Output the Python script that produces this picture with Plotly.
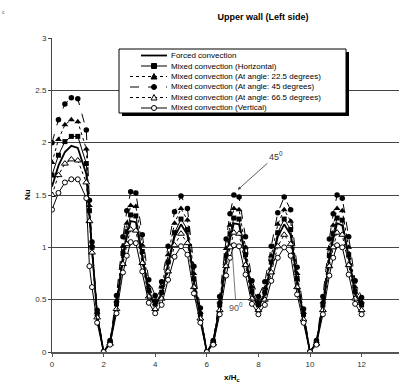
import plotly.graph_objects as go

x_pos = [0, 0.25, 0.5, 0.75, 1.0, 1.33, 1.45, 1.55, 1.75, 2.0,
         2.25, 2.5, 2.75, 2.9, 3.05, 3.25, 3.5, 3.75, 4.0,
         4.25, 4.5, 4.75, 5.0, 5.25, 5.5, 5.75, 6.0,
         6.25, 6.5, 6.75, 6.9, 7.05, 7.25, 7.5, 7.75, 8.0,
         8.25, 8.5, 8.75, 9.0, 9.25, 9.5, 9.75, 10.0,
         10.25, 10.5, 10.75, 10.9, 11.05, 11.25, 11.5, 11.75, 12.0]

nu_forced = [1.58, 1.78, 1.91, 1.97, 1.95, 1.70, 1.30, 0.98, 0.35, 0.0,
             0.09, 0.44, 0.90, 1.10, 1.25, 1.24, 0.91, 0.56, 0.44,
             0.55, 0.83, 1.10, 1.22, 1.12, 0.67, 0.34, 0.0,
             0.09, 0.43, 0.89, 1.08, 1.23, 1.22, 0.90, 0.55, 0.43,
             0.55, 0.83, 1.10, 1.22, 1.12, 0.67, 0.34, 0.0,
             0.09, 0.43, 0.89, 1.08, 1.23, 1.21, 0.90, 0.55, 0.43]

nu_horizontal = [1.69, 1.88, 2.01, 2.06, 2.06, 1.80, 1.35, 1.00, 0.36, 0.0,
                 0.09, 0.46, 0.94, 1.15, 1.31, 1.30, 0.96, 0.59, 0.46,
                 0.57, 0.86, 1.14, 1.27, 1.17, 0.70, 0.36, 0.0,
                 0.09, 0.45, 0.92, 1.13, 1.28, 1.27, 0.93, 0.58, 0.45,
                 0.57, 0.86, 1.14, 1.27, 1.17, 0.70, 0.36, 0.0,
                 0.09, 0.45, 0.92, 1.13, 1.28, 1.26, 0.93, 0.58, 0.45]

nu_225 = [1.81, 2.03, 2.17, 2.22, 2.20, 1.94, 1.40, 1.02, 0.38, 0.0,
          0.10, 0.49, 1.01, 1.23, 1.40, 1.39, 1.02, 0.63, 0.49,
          0.62, 0.93, 1.23, 1.37, 1.26, 0.75, 0.38, 0.0,
          0.10, 0.48, 0.99, 1.21, 1.37, 1.36, 1.00, 0.62, 0.48,
          0.61, 0.92, 1.22, 1.36, 1.25, 0.75, 0.38, 0.0,
          0.10, 0.48, 0.99, 1.21, 1.37, 1.35, 1.00, 0.62, 0.48]

nu_45 = [2.00, 2.22, 2.37, 2.43, 2.42, 2.12, 1.45, 1.05, 0.40, 0.0,
         0.11, 0.54, 1.10, 1.35, 1.53, 1.52, 1.12, 0.69, 0.54,
         0.67, 1.01, 1.34, 1.49, 1.37, 0.82, 0.42, 0.0,
         0.11, 0.53, 1.08, 1.32, 1.50, 1.48, 1.10, 0.68, 0.53,
         0.67, 1.01, 1.33, 1.48, 1.36, 0.81, 0.41, 0.0,
         0.11, 0.53, 1.08, 1.32, 1.50, 1.47, 1.10, 0.68, 0.52]

nu_665 = [1.50, 1.69, 1.80, 1.84, 1.83, 1.62, 1.25, 0.95, 0.33, 0.0,
          0.08, 0.41, 0.84, 1.03, 1.17, 1.16, 0.85, 0.53, 0.41,
          0.51, 0.77, 1.02, 1.13, 1.04, 0.62, 0.32, 0.0,
          0.08, 0.40, 0.82, 1.00, 1.14, 1.13, 0.83, 0.51, 0.40,
          0.50, 0.76, 1.01, 1.12, 1.03, 0.62, 0.31, 0.0,
          0.08, 0.40, 0.82, 1.00, 1.14, 1.12, 0.83, 0.51, 0.40]

nu_vertical = [1.36, 1.52, 1.62, 1.65, 1.65, 1.47, 0.82, 0.62, 0.28, 0.0,
               0.07, 0.37, 0.76, 0.92, 1.05, 1.04, 0.77, 0.47, 0.37,
               0.45, 0.69, 0.91, 1.01, 0.93, 0.56, 0.28, 0.0,
               0.07, 0.36, 0.73, 0.90, 1.02, 1.01, 0.74, 0.46, 0.36,
               0.45, 0.68, 0.90, 1.00, 0.92, 0.55, 0.28, 0.0,
               0.07, 0.36, 0.73, 0.90, 1.02, 1.00, 0.74, 0.46, 0.36]

series_names = ["Forced convection",
                "Mixed convection (Horizontal)",
                "Mixed convection (At angle: 22.5 degrees)",
                "Mixed convection (At angle: 45 degrees)",
                "Mixed convection (At angle: 66.5 degrees)",
                "Mixed convection (Vertical)"]

x_ticks = [0, 2, 4, 6, 8, 10, 12]
y_ticks = [0, 0.5, 1, 1.5, 2, 2.5, 3]
y_tick_text = ["0", "0.5", "1", "1.5", "2", "2.5", "3"]

FONT = "Arial, Liberation Sans, sans-serif"

# plot area geometry (pixels)
W, H = 399, 387
L, R, T, B = 52, 0, 38, 35
PW, PH = W - L - R, H - T - B


def px(xp):
    return (xp - L) / PW


def py(yp):
    return (H - B - yp) / PH


line_styles = [
    dict(color="black", width=1.8, dash="solid"),
    dict(color="black", width=1, dash="solid"),
    dict(color="black", width=1, dash="dot"),
    dict(color="black", width=1, dash="dash"),
    dict(color="black", width=1, dash="dot"),
    dict(color="black", width=1, dash="solid"),
]
marker_styles = [
    None,
    dict(symbol="square", size=5, color="black"),
    dict(symbol="triangle-up", size=6, color="black"),
    dict(symbol="circle", size=5.5, color="black"),
    dict(symbol="triangle-up", size=6, color="white", line=dict(color="black", width=1)),
    dict(symbol="circle", size=5, color="white", line=dict(color="black", width=1)),
]
series_values = [nu_forced, nu_horizontal, nu_225, nu_45, nu_665, nu_vertical]

fig = go.Figure()
for name, ys, ln, mk in zip(series_names, series_values, line_styles, marker_styles):
    kw = dict(x=x_pos, y=ys, name=name, line=ln, showlegend=False,
              mode="lines" if mk is None else "lines+markers")
    if mk is not None:
        kw["marker"] = mk
    fig.add_trace(go.Scatter(**kw))

# ---- manual legend (box with drop shadow) ----
bx0, bx1, by0, by1 = 119, 346, 49, 113
shapes = []
shapes.append(dict(type="rect", xref="paper", yref="paper",
                   x0=px(bx0 + 3), x1=px(bx1 + 3), y0=py(by1 + 3), y1=py(by0 + 3),
                   fillcolor="black", line=dict(width=0), layer="above"))
shapes.append(dict(type="rect", xref="paper", yref="paper",
                   x0=px(bx0), x1=px(bx1), y0=py(by1), y1=py(by0),
                   fillcolor="white", line=dict(color="black", width=1), layer="above"))

row_y = [55.5, 66, 76.5, 87, 97.5, 108]
lx0, lx1, mx, tx = 141, 167, 154, 169
for i, (name, ln, mk) in enumerate(zip(series_names, line_styles, marker_styles)):
    yy = row_y[i]
    shapes.append(dict(type="line", xref="paper", yref="paper",
                       x0=px(lx0 if ln["dash"] == "solid" else 130), x1=px(lx1),
                       y0=py(yy), y1=py(yy),
                       line=dict(color="black", width=ln["width"], dash=ln["dash"]), layer="above"))
    if mk is not None:
        fill = mk["color"]
        r = 2.5
        if mk["symbol"] == "square":
            shapes.append(dict(type="rect", xref="paper", yref="paper",
                               x0=px(mx - r), x1=px(mx + r), y0=py(yy + r), y1=py(yy - r),
                               fillcolor=fill, line=dict(color="black", width=1), layer="above"))
        elif mk["symbol"] == "circle":
            shapes.append(dict(type="circle", xref="paper", yref="paper",
                               x0=px(mx - r), x1=px(mx + r), y0=py(yy + r), y1=py(yy - r),
                               fillcolor=fill, line=dict(color="black", width=1), layer="above"))
        else:
            path = "M {} {} L {} {} L {} {} Z".format(
                px(mx - 3), py(yy + 2.5), px(mx + 3), py(yy + 2.5), px(mx), py(yy - 3))
            shapes.append(dict(type="path", xref="paper", yref="paper", path=path,
                               fillcolor=fill, line=dict(color="black", width=1), layer="above"))
    fig.add_annotation(xref="paper", yref="paper", x=px(tx), y=py(yy),
                       xanchor="left", yanchor="middle", text=name, showarrow=False,
                       font=dict(family=FONT, size=8, color="black"))

fig.update_layout(shapes=shapes)

# ---- angle annotations ----
fig.add_annotation(x=7.2, y=1.55, text="45<sup>0</sup>", showarrow=True,
                   ax=38, ay=-34, arrowhead=2, arrowsize=0.8, arrowwidth=0.8,
                   arrowcolor="#333", font=dict(family=FONT, size=9, color="#333"))
fig.add_annotation(x=6.98, y=0.98, text="90<sup>0</sup>", showarrow=True,
                   ax=4, ay=58, arrowhead=0, arrowwidth=0.8,
                   arrowcolor="#555", font=dict(family=FONT, size=9, color="#555"))

# ---- axis titles ----
fig.add_annotation(xref="paper", yref="paper", x=px(232), y=py(378), text="<b>x/H<sub>c</sub></b>",
                   showarrow=False, xanchor="center", yanchor="middle",
                   font=dict(family=FONT, size=8, color="black"))
fig.add_annotation(xref="paper", yref="paper", x=px(27), y=py(195), text="<b>Nu</b>",
                   showarrow=False, textangle=-90, xanchor="center", yanchor="middle",
                   font=dict(family=FONT, size=8, color="black"))
# small cropped glyph at the top-left corner of the reference
fig.add_annotation(xref="paper", yref="paper", x=px(4), y=py(12), text="c",
                   showarrow=False, xanchor="center", yanchor="middle",
                   font=dict(family=FONT, size=5, color="#555"))

fig.update_layout(
    width=W, height=H,
    margin=dict(l=L, r=R, t=T, b=B, autoexpand=False),
    paper_bgcolor="white", plot_bgcolor="white",
    font=dict(family=FONT, size=8, color="#333"),
    title=dict(text="<b>Upper wall (Left side)</b>", x=263 / W, xanchor="center",
               y=1 - 17 / H, yanchor="middle",
               font=dict(family=FONT, size=9, color="black")),
    showlegend=False,
    hovermode=False,
    xaxis=dict(range=[0, PW / 25.8], tickvals=x_ticks, ticktext=[str(v) for v in x_ticks],
               showgrid=False, zeroline=False, showline=True, linecolor="#555", linewidth=2,
               ticks="outside", ticklen=3, tickcolor="#555", automargin=False,
               tickfont=dict(family=FONT, size=8, color="#333")),
    yaxis=dict(range=[0, 3], tickvals=y_ticks, ticktext=y_tick_text,
               showgrid=True, gridcolor="#444", gridwidth=1, zeroline=False,
               showline=True, linecolor="#444", linewidth=1, automargin=False,
               ticks="outside", ticklen=3, tickcolor="#444",
               tickfont=dict(family=FONT, size=8, color="#333")),
)

fig.write_html("out.html", config={"displayModeBar": False},
               post_script="document.body.style.margin='0';document.body.style.overflow='hidden';")
